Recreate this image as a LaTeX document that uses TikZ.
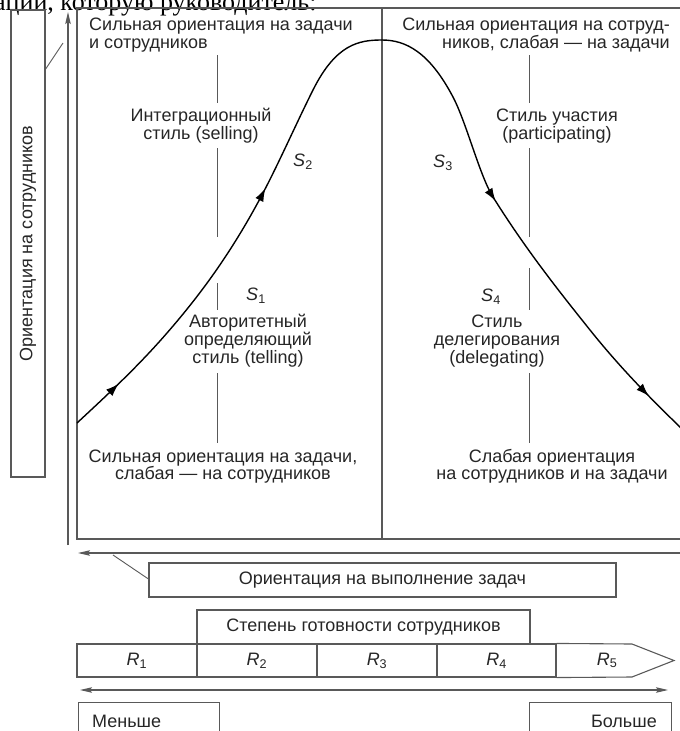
\documentclass[tikz,border=0pt]{standalone}
\usepackage{fontspec}
\setmainfont{Liberation Sans}
\newfontfamily\serifpage{Liberation Serif}
\usetikzlibrary{arrows.meta,decorations.markings}
\definecolor{ink}{gray}{0.15}
\definecolor{rule}{gray}{0.35}
\begin{document}
\begin{tikzpicture}[x=1pt,y=-1pt,
  t/.style={font=\fontsize{18}{18}\selectfont, text=ink, inner sep=0pt},
  ln/.style={draw=rule, line width=1.1pt},
  thin/.style={draw=rule, line width=0.9pt},
  boxst/.style={draw=rule, line width=1.1pt, inner sep=0pt, text=ink, font=\fontsize{18}{18}\selectfont},
  axarrow/.style={draw=rule, line width=1.1pt, -{Stealth[length=12pt,width=5.5pt,inset=2pt]}},
  curvest/.style={draw=black, line width=1.4pt},
  mid/.style={postaction={decorate, decoration={markings,
     mark=at position 0.057 with {\arrow{Latex[length=13pt,width=9pt]}},
     mark=at position 0.301 with {\arrow{Latex[length=13pt,width=9pt]}},
     mark=at position 0.708 with {\arrow{Latex[length=13pt,width=9pt]}},
     mark=at position 0.955 with {\arrow{Latex[length=13pt,width=9pt]}}}}}
]
\useasboundingbox (0,0) rectangle (680,731);
\begin{scope}
\clip (0,0) rectangle (680,731);

% clipped line of page text at the top
\node[anchor=base west, inner sep=0pt, font=\serifpage\fontsize{26}{26}\selectfont, text=black] (pagetext) at (-6,10) {ации, которую руководитель:};

% vertical label box
\node[boxst, rotate=90, minimum width=467, minimum height=34] (ylab) at (28,243.5) {Ориентация на сотрудников};
\coordinate (yl1) at (45,70);
\coordinate (yl2) at (63,43);
\draw[thin] (yl1) -- (yl2);

% vertical axis arrow
\coordinate (vy0) at (68,545);
\coordinate (vy1) at (68,12);
\draw[axarrow] (vy0) -- (vy1);

% main frame
\coordinate (fa) at (681,8);
\coordinate (fb) at (77,8);
\coordinate (fc) at (77,539);
\coordinate (fd) at (681,539);
\draw[ln] (fa) -- (fb) -- (fc) -- (fd);
\coordinate (m0) at (382,8);
\coordinate (m1) at (382,539);
\draw[ln] (m0) -- (m1);

% quadrant texts
\node[t, anchor=base west] (tl1) at (89,30) {Сильная ориентация на задачи};
\node[t, anchor=base west] (tl2) at (89,48) {и сотрудников};
\node[t, anchor=base east] (tr1) at (670,30) {Сильная ориентация на сотруд-};
\node[t, anchor=base east] (tr2) at (670,48) {ников, слабая — на задачи};

\node[t, anchor=base] (s2a) at (201,121) {Интеграционный};
\node[t, anchor=base] (s2b) at (201,139) {стиль (selling)};
\node[t, anchor=base] (s3a) at (557,121) {Стиль участия};
\node[t, anchor=base] (s3b) at (557,139) {(participating)};

\node[t] (S2) at (303,162) {\textit{S}\textsubscript{2}};
\node[t] (S3) at (443,163) {\textit{S}\textsubscript{3}};
\node[t] (S1) at (256,296) {\textit{S}\textsubscript{1}};
\node[t] (S4) at (491,297) {\textit{S}\textsubscript{4}};

\node[t, anchor=base] (s1a) at (248,327) {Авторитетный};
\node[t, anchor=base] (s1b) at (248,345) {определяющий};
\node[t, anchor=base] (s1c) at (248,363) {стиль (telling)};
\node[t, anchor=base] (s4a) at (497,327) {Стиль};
\node[t, anchor=base] (s4b) at (497,345) {делегирования};
\node[t, anchor=base] (s4c) at (497,363) {(delegating)};

\node[t, anchor=base] (bl1) at (223,462) {Сильная ориентация на задачи,};
\node[t, anchor=base] (bl2) at (223,479) {слабая — на сотрудников};
\node[t, anchor=base] (br1) at (552,462) {Слабая ориентация};
\node[t, anchor=base] (br2) at (552,479) {на сотрудников и на задачи};

% divider ticks
\foreach \xx/\nm in {217/L,529/R}{
  \coordinate (\nm a0) at (\xx,55);  \coordinate (\nm a1) at (\xx,103);
  \coordinate (\nm b0) at (\xx,148); \coordinate (\nm b1) at (\xx,237);
  \coordinate (\nm d0) at (\xx,373); \coordinate (\nm d1) at (\xx,443);
  \draw[thin] (\nm a0) -- (\nm a1);
  \draw[thin] (\nm b0) -- (\nm b1);
  \draw[thin] (\nm d0) -- (\nm d1);
}
\coordinate (Lc0) at (217,283); \coordinate (Lc1) at (217,310);
\coordinate (Rc0) at (529,268); \coordinate (Rc1) at (529,310);
\draw[thin] (Lc0) -- (Lc1);
\draw[thin] (Rc0) -- (Rc1);

% bell curve
\coordinate (p0) at (77,423);
\coordinate (p1) at (167,333);
\coordinate (p2) at (263,193);
\coordinate (p3) at (313,90);
\coordinate (p4) at (382,40);
\coordinate (p5) at (453,97);
\coordinate (p6) at (493,197);
\coordinate (p7) at (590,330);
\coordinate (p8) at (681,428);
\draw[curvest, mid] (p0)
  .. controls (107,395.1) and (137,367.5) .. (p1)
  .. controls (199,296.2) and (231,253.8) .. (p2)
  .. controls (279.67,161.3) and (296.33,123.3) .. (p3)
  .. controls (336,44) and (359,40) .. (p4)
  .. controls (405.67,40) and (429.33,52) .. (p5)
  .. controls (466.33,122.3) and (479.67,175.7) .. (p6)
  .. controls (525.33,248.7) and (557.67,289.6) .. (p7)
  .. controls (620.33,367.9) and (650.67,398.6) .. (p8);

% task orientation axis
\coordinate (hx0) at (681,553);
\coordinate (hx1) at (78,553);
\draw[axarrow] (hx0) -- (hx1);
\node[boxst, minimum width=467, minimum height=34] (task) at (382.5,580) {Ориентация на выполнение задач};
\coordinate (tk1) at (113,555);
\draw[thin] (tk1) -- (task.west |- 0,579);

% readiness
\node[boxst, minimum width=333, minimum height=34] (ready) at (363.5,627) {Степень готовности сотрудников};
\node[boxst, minimum width=120, minimum height=33] (r1) at (137,660.5) {\textit{R}\textsubscript{1}};
\node[boxst, minimum width=120, minimum height=33] (r2) at (257,660.5) {\textit{R}\textsubscript{2}};
\node[boxst, minimum width=120, minimum height=33] (r3) at (377,660.5) {\textit{R}\textsubscript{3}};
\node[boxst, minimum width=119, minimum height=33] (r4) at (496.5,660.5) {\textit{R}\textsubscript{4}};
\coordinate (r5a) at (632,644);
\coordinate (r5tip) at (674,660.5);
\coordinate (r5b) at (632,677);
\draw[ln] (r4.north east) -- (r5a) -- (r5tip) -- (r5b) -- (r4.south east);
\node[t] (r5) at (607,660.5) {\textit{R}\textsubscript{5}};

% double arrow
\coordinate (dx0) at (80,690);
\coordinate (dx1) at (668,690);
\draw[draw=rule, line width=1.1pt, {Stealth[length=12pt,width=5.5pt,inset=2pt]}-{Stealth[length=12pt,width=5.5pt,inset=2pt]}] (dx0) -- (dx1);

% less / more boxes
\node[boxst, minimum width=141, minimum height=50, anchor=north west] (less) at (78,702) {};
\node[t, anchor=base west] (lesst) at (92,727) {Меньше};
\node[boxst, minimum width=142, minimum height=50, anchor=north west] (more) at (529,702) {};
\node[t, anchor=base east] (moret) at (657,727) {Больше};
\end{scope}
\end{tikzpicture}
\end{document}
